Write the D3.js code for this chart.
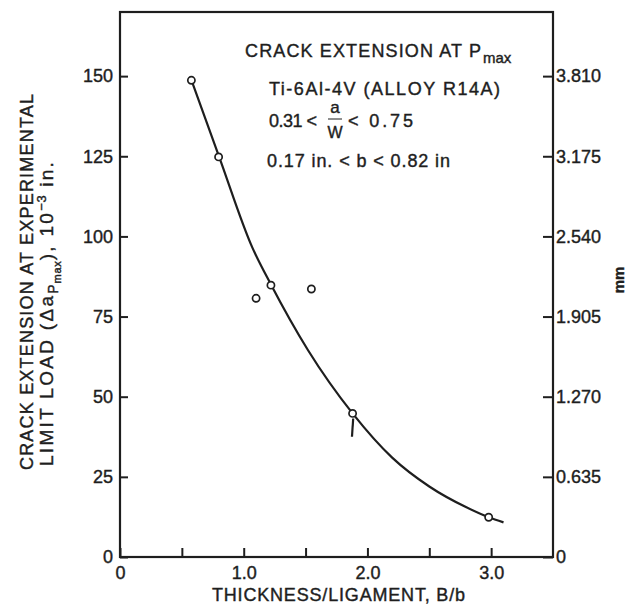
<!DOCTYPE html>
<html>
<head>
<meta charset="utf-8">
<script src="https://cdnjs.cloudflare.com/ajax/libs/d3/7.8.5/d3.min.js"></script>
<style>
    body { margin: 0; background: #fff; }
    svg text { font-family: 'Liberation Sans', Arial, sans-serif; fill: #1e1e1e; stroke: #1e1e1e; stroke-width: 0.4px; }
</style>
</head>
<body>
<div id="chart"></div>
<script>
// test points: thickness/ligament B/b vs crack extension, 10^-3 in.
var thickness = [0.577, 0.797, 1.10, 1.22, 1.547, 1.88, 2.98];
var crackExt = [148.7, 124.8, 80.7, 84.8, 83.6, 44.8, 12.4];

// faired curve as drawn on the figure
var curveX = [0.577, 0.8, 1.07, 1.22, 1.52, 1.88, 2.2, 2.5, 2.8, 2.98, 3.10];
var curveY = [148.8, 125, 96.5, 85, 64.5, 44.8, 31, 22, 15.5, 12.4, 10.8];

// short scatter bar under the point at B/b = 1.88
var barX = [1.885, 1.875];
var barY = [43.2, 37.5];

var xTicks = [0, 0.5, 1.0, 1.5, 2.0, 2.5, 3.0];
var yTicks = [0, 25, 50, 75, 100, 125, 150];
var mmTicks = [0, 0.635, 1.270, 1.905, 2.540, 3.175, 3.810];

var W = 626, H = 606;
var margin = { top: 12, right: 73, bottom: 49, left: 120 };
var width = W - margin.left - margin.right;
var height = H - margin.top - margin.bottom;
var ink = '#1e1e1e';

var svg = d3
    .select('#chart')
    .append('svg')
    .attr('width', W)
    .attr('height', H);

svg.append('rect').attr('width', W).attr('height', H).attr('fill', '#fff');

var g = svg.append('g').attr('transform', 'translate(' + margin.left + ',' + margin.top + ')');

var x = d3.scaleLinear().domain([0, 3.5]).range([0, width]);
var y = d3.scaleLinear().domain([0, 170]).range([height, 0]);
// same axis in mm (1 in. = 25.4 mm, values are 10^-3 in.)
var yMm = d3.scaleLinear().domain([0, 170 * 0.0254]).range([height, 0]);

function styleAxis(sel) {
    sel.select('.domain').remove();
    sel.attr('font-size', 18);
    sel.selectAll('line').attr('stroke', ink).attr('stroke-width', 2);
}

g.append('g')
    .attr('transform', 'translate(0,' + height + ')')
    .call(
        d3.axisBottom(x)
            .tickValues(xTicks)
            .tickSizeInner(-9)
            .tickSizeOuter(0)
            .tickPadding(9)
            .tickFormat(function(d) {
                if (d === 0) return '0';
                return d % 1 === 0 ? d.toFixed(1) : '';
            })
    )
    .call(styleAxis);

g.append('g')
    .call(
        d3.axisLeft(y)
            .tickValues(yTicks)
            .tickSizeInner(-8)
            .tickSizeOuter(0)
            .tickPadding(7)
    )
    .call(styleAxis);

g.append('g')
    .attr('transform', 'translate(' + width + ',0)')
    .call(
        d3.axisRight(yMm)
            .tickValues(mmTicks)
            .tickSizeInner(-10)
            .tickSizeOuter(0)
            .tickPadding(3)
            .tickFormat(function(d) {
                return d === 0 ? '0' : d3.format('.3f')(d);
            })
    )
    .call(styleAxis);

// frame
g.append('rect')
    .attr('width', width)
    .attr('height', height)
    .attr('fill', 'none')
    .attr('stroke', ink)
    .attr('stroke-width', 2.2);

// faired curve
var line = d3
    .line()
    .x(function(d) { return x(d[0]); })
    .y(function(d) { return y(d[1]); })
    .curve(d3.curveMonotoneX);

g.append('path')
    .datum(d3.zip(curveX, curveY))
    .attr('d', line)
    .attr('fill', 'none')
    .attr('stroke', ink)
    .attr('stroke-width', 2.2);

g.append('path')
    .datum(d3.zip(barX, barY))
    .attr('d', d3.line().x(function(d) { return x(d[0]); }).y(function(d) { return y(d[1]); }))
    .attr('fill', 'none')
    .attr('stroke', ink)
    .attr('stroke-width', 2.2);

g.selectAll('.pt')
    .data(d3.zip(thickness, crackExt))
    .enter()
    .append('circle')
    .attr('class', 'pt')
    .attr('cx', function(d) { return x(d[0]); })
    .attr('cy', function(d) { return y(d[1]); })
    .attr('r', 3.6)
    .attr('fill', '#fff')
    .attr('stroke', ink)
    .attr('stroke-width', 1.7);

// axis titles
svg.append('text')
    .attr('x', 212)
    .attr('y', 601)
    .attr('font-size', 18)
    .attr('textLength', 253)
    .attr('lengthAdjust', 'spacing')
    .text('THICKNESS/LIGAMENT, B/b');

svg.append('text')
    .attr('transform', 'translate(33,470) rotate(-90)')
    .attr('font-size', 18)
    .attr('textLength', 376)
    .attr('lengthAdjust', 'spacing')
    .text('CRACK EXTENSION AT EXPERIMENTAL');

var t2 = svg.append('text')
    .attr('transform', 'translate(53,466) rotate(-90)')
    .attr('font-size', 19)
    .attr('letter-spacing', 2.3);
t2.append('tspan').text('LIMIT LOAD (\u0394a');
t2.append('tspan').attr('font-size', 14).attr('dy', 5).attr('letter-spacing', 0.8).text('P');
t2.append('tspan').attr('font-size', 11).attr('dy', 3).attr('letter-spacing', 0.8).text('max');
t2.append('tspan').attr('dy', -8).text('), 10');
t2.append('tspan').attr('font-size', 13).attr('dy', -7).attr('letter-spacing', 0.8).text('\u22123');
t2.append('tspan').attr('dy', 7).text(' in.');

svg.append('text')
    .attr('transform', 'translate(624,280) rotate(-90)')
    .attr('text-anchor', 'middle')
    .attr('font-size', 15)
    .attr('font-weight', 'bold')
    .text('mm');

// notes, upper right
var notes = svg.append('g').attr('font-size', 18);

notes.append('text')
    .attr('x', 245).attr('y', 57)
    .attr('textLength', 236).attr('lengthAdjust', 'spacing')
    .text('CRACK EXTENSION AT P');
notes.append('text')
    .attr('x', 483).attr('y', 63)
    .attr('font-size', 15)
    .text('max');

notes.append('text')
    .attr('x', 269).attr('y', 95)
    .attr('textLength', 231).attr('lengthAdjust', 'spacing')
    .text('Ti-6Al-4V (ALLOY R14A)');

notes.append('text')
    .attr('x', 269).attr('y', 127)
    .attr('textLength', 48).attr('lengthAdjust', 'spacing')
    .text('0.31 <');
notes.append('text')
    .attr('x', 335).attr('y', 113)
    .attr('text-anchor', 'middle')
    .attr('font-size', 17)
    .text('a');
notes.append('line')
    .attr('x1', 328).attr('x2', 342)
    .attr('y1', 119).attr('y2', 119)
    .attr('stroke', ink).attr('stroke-width', 1);
notes.append('text')
    .attr('x', 335).attr('y', 138)
    .attr('text-anchor', 'middle')
    .attr('font-size', 16)
    .text('W');
notes.append('text')
    .attr('x', 348).attr('y', 127)
    .attr('textLength', 65).attr('lengthAdjust', 'spacing')
    .text('< 0.75');

notes.append('text')
    .attr('x', 267).attr('y', 167)
    .attr('textLength', 183).attr('lengthAdjust', 'spacing')
    .text('0.17 in. < b < 0.82 in');
</script>
</body>
</html>
